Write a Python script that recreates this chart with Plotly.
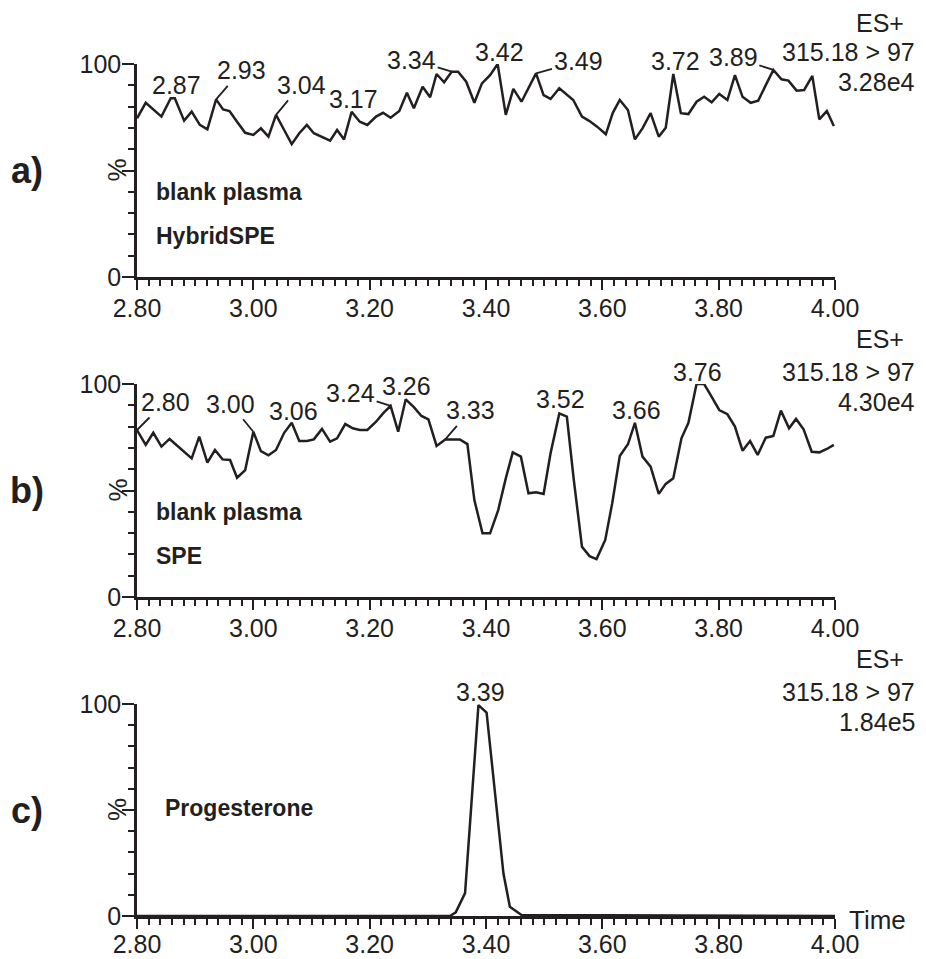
import plotly.graph_objects as go

# ---------------- data ----------------
time_a = [2.800, 2.815, 2.842, 2.858, 2.865, 2.881, 2.894, 2.908, 2.921, 2.936, 2.948, 2.959, 2.972, 2.986,
          3.000, 3.013, 3.026, 3.039, 3.053, 3.066, 3.079, 3.092, 3.104, 3.118, 3.132, 3.144, 3.156, 3.169,
          3.183, 3.196, 3.211, 3.223, 3.236, 3.251, 3.264, 3.276, 3.291, 3.304, 3.315, 3.328, 3.341, 3.352,
          3.366, 3.380, 3.393, 3.407, 3.420, 3.434, 3.447, 3.461, 3.473, 3.486, 3.499, 3.511, 3.526, 3.539,
          3.550, 3.565, 3.578, 3.591, 3.606, 3.618, 3.630, 3.644, 3.656, 3.669, 3.683, 3.697, 3.709, 3.722,
          3.735, 3.748, 3.762, 3.775, 3.788, 3.801, 3.815, 3.828, 3.841, 3.855, 3.868, 3.881, 3.894, 3.908,
          3.920, 3.934, 3.947, 3.961, 3.973, 3.986, 3.998]
intensity_a = [74.5, 81.8, 75.3, 83.9, 83.9, 73.4, 77.6, 71.4, 69.3, 83.4, 78.7, 77.9, 72.9, 67.7,
               66.7, 69.8, 65.9, 76.1, 69.0, 62.4, 67.5, 71.4, 67.5, 65.6, 64.0, 69.0, 64.6, 77.6,
               72.9, 71.4, 75.3, 77.1, 74.8, 77.9, 86.5, 79.2, 89.3, 84.4, 95.3, 91.4, 96.4, 96.4,
               91.7, 81.8, 90.9, 94.8, 100.0, 76.1, 88.3, 82.3, 88.5, 95.6, 85.4, 83.6, 88.6, 85.8,
               83.1, 75.3, 73.2, 70.6, 67.0, 77.1, 83.1, 78.4, 64.6, 69.8, 76.9, 65.9, 70.1, 95.3,
               76.9, 76.5, 82.3, 84.6, 82.0, 85.9, 83.1, 94.8, 84.6, 81.8, 82.8, 90.1, 97.2, 92.8,
               92.2, 87.5, 87.8, 94.4, 74.0, 77.9, 70.9]

time_b = [2.800, 2.815, 2.828, 2.842, 2.856, 2.868, 2.881, 2.894, 2.907, 2.921, 2.934, 2.947, 2.960, 2.972,
          2.986, 3.000, 3.013, 3.026, 3.039, 3.053, 3.066, 3.079, 3.092, 3.104, 3.118, 3.132, 3.144, 3.158,
          3.171, 3.183, 3.196, 3.211, 3.223, 3.236, 3.249, 3.262, 3.276, 3.289, 3.301, 3.315, 3.330, 3.343,
          3.355, 3.368, 3.380, 3.394, 3.407, 3.421, 3.434, 3.446, 3.460, 3.473, 3.486, 3.499, 3.511, 3.526,
          3.539, 3.551, 3.565, 3.578, 3.590, 3.605, 3.617, 3.630, 3.644, 3.656, 3.669, 3.683, 3.697, 3.709,
          3.722, 3.736, 3.748, 3.762, 3.775, 3.788, 3.801, 3.815, 3.828, 3.841, 3.854, 3.867, 3.881, 3.894,
          3.907, 3.921, 3.933, 3.946, 3.960, 3.973, 3.986, 3.998]
intensity_b = [78.4, 71.4, 77.1, 70.6, 74.2, 71.4, 68.2, 65.1, 75.3, 63.1, 69.0, 64.6, 64.3, 56.0,
               59.6, 77.6, 68.5, 66.5, 69.0, 77.1, 81.8, 73.2, 73.2, 74.0, 78.9, 72.9, 74.5, 81.2,
               79.2, 78.4, 78.4, 82.3, 86.2, 89.7, 77.6, 92.8, 89.1, 85.0, 83.4, 70.9, 74.0, 74.0,
               74.0, 71.8, 45.5, 29.9, 29.9, 40.8, 55.7, 67.9, 65.9, 48.7, 49.2, 48.4, 67.5, 86.2,
               84.7, 54.9, 23.6, 19.2, 17.8, 26.8, 44.0, 66.2, 71.7, 81.8, 65.9, 61.2, 48.4, 53.1,
               55.7, 74.5, 81.8, 100.0, 100.0, 94.0, 87.8, 85.8, 80.0, 68.7, 73.2, 66.7, 74.8, 75.6,
               87.5, 79.2, 83.6, 78.7, 68.2, 67.9, 69.5, 71.4]

time_c = [2.800, 3.338, 3.348, 3.364, 3.387, 3.401, 3.430, 3.441, 3.461, 4.000]
intensity_c = [0.0, 0.0, 1.7, 10.8, 99.5, 96.0, 20.0, 4.4, 0.5, 0.0]

# peak labels (text, anchor time, anchor intensity)
peak_text_a = ["2.87", "2.93", "3.04", "3.17", "3.34", "3.42", "3.49", "3.72", "3.89"]
peak_x_a = [2.865, 2.936, 3.039, 3.169, 3.341, 3.420, 3.486, 3.722, 3.894]
peak_y_a = [83.9, 83.4, 76.1, 77.6, 96.4, 100.0, 95.6, 95.3, 97.2]

peak_text_b = ["2.80", "3.00", "3.06", "3.24", "3.26", "3.33", "3.52", "3.66", "3.76"]
peak_x_b = [2.800, 3.000, 3.066, 3.236, 3.262, 3.330, 3.526, 3.656, 3.762]
peak_y_b = [78.4, 77.6, 81.8, 89.7, 92.8, 74.0, 86.2, 81.8, 100.0]

peak_text_c = ["3.39"]
peak_x_c = [3.387]
peak_y_c = [99.5]

x_tick_vals = [2.8, 3.0, 3.2, 3.4, 3.6, 3.8, 4.0]
x_tick_text = ["2.80", "3.00", "3.20", "3.40", "3.60", "3.80", "4.00"]

panel_letters = ["a)", "b)", "c)"]
sample_lines = [["blank plasma", "HybridSPE"], ["blank plasma", "SPE"], ["Progesterone"]]
channel = ["315.18 > 97", "315.18 > 97", "315.18 > 97"]
scale_text = ["3.28e4", "4.30e4", "1.84e5"]

# ---------------- layout helpers (reference-pixel positions) ----------------
OFF = 8                      # page body margin of the browser
W, H = 926 - OFF, 959 - OFF  # figure size that fits the window
L, R = 137, 835              # plot left / right in window pixels
INK = "#231f20"
FONT = "Liberation Sans, Arial, sans-serif"


def px_x(px):
    return (px - L) / (R - L)


def px_y(py):
    return 1 - (py - OFF) / H


panel_px = [(64, 277), (384, 597), (704, 916)]  # (y=100 px, y=0 px) in window pixels
label_standoff = [-3, -3, -6]
es_shift = [41, 45, 45]

# label offsets (dx, dy, leader)
offs_a = [(2, -13, False), (25, -29, True), (25, -30, True), (2, -13, False), (-40, -12, True),
          (2, -12, False), (42, -12, True), (2, -13, False), (-40, -13, True)]
offs_b = [(28, -28, True), (-23, -28, True), (2, -12, False), (-40, -13, True), (1, -13, False),
          (25, -29, True), (1, -14, False), (2, -13, False), (1, -12, False)]
offs_c = [(2, -13, False)]

fig = go.Figure()
series = [(time_a, intensity_a), (time_b, intensity_b), (time_c, intensity_c)]
labels = [(peak_text_a, peak_x_a, peak_y_a, offs_a),
          (peak_text_b, peak_x_b, peak_y_b, offs_b),
          (peak_text_c, peak_x_c, peak_y_c, offs_c)]

annotations = []
layout_axes = {}
for i, (tx, ty) in enumerate(series):
    n = "" if i == 0 else str(i + 1)
    xa, ya = "x" + n, "y" + n
    fig.add_trace(go.Scatter(x=tx, y=ty, mode="lines", xaxis=xa, yaxis=ya,
                             line=dict(color=INK, width=2.5), showlegend=False,
                             hoverinfo="skip"))
    top, bot = panel_px[i]
    layout_axes["xaxis" + n] = dict(
        domain=[0, 1], anchor=ya, range=[2.8, 4.0], showgrid=False, zeroline=False,
        showline=True, linecolor=INK, linewidth=2.5,
        tickmode="array", tickvals=x_tick_vals, ticktext=x_tick_text,
        ticks="outside", ticklen=10, tickwidth=2, tickcolor=INK,
        ticklabelstandoff=label_standoff[i],
        tickfont=dict(family=FONT, size=25, color=INK),
        minor=dict(tickmode="linear", tick0=2.8, dtick=0.02, ticks="outside",
                   ticklen=6, tickwidth=2, tickcolor=INK),
        automargin=False, fixedrange=True,
    )
    layout_axes["yaxis" + n] = dict(
        domain=[px_y(bot), px_y(top)], anchor=xa, range=[0, 100], showgrid=False,
        zeroline=False, showline=True, linecolor=INK, linewidth=2.5,
        tickmode="array", tickvals=[0, 50, 100], ticktext=["0", "", "100"],
        ticks="outside", ticklen=12, tickwidth=2, tickcolor=INK,
        ticklabelstandoff=-4,
        tickfont=dict(family=FONT, size=25, color=INK),
        minor=dict(tickmode="linear", tick0=0, dtick=10, ticks="outside",
                   ticklen=6, tickwidth=2, tickcolor=INK),
        automargin=False, fixedrange=True,
    )

    # peak labels
    texts, lx, ly, offs = labels[i]
    for t, x, y, (dx, dy, leader) in zip(texts, lx, ly, offs):
        if leader:
            annotations.append(dict(x=x, y=y, xref=xa, yref=ya, text=t, showarrow=True,
                                    arrowhead=0, arrowwidth=1.8, arrowcolor=INK,
                                    ax=dx, ay=dy, standoff=0,
                                    font=dict(family=FONT, size=25, color=INK)))
        else:
            annotations.append(dict(x=x, y=y, xref=xa, yref=ya, text=t, showarrow=False,
                                    xanchor="center", yanchor="middle", xshift=dx, yshift=-dy,
                                    font=dict(family=FONT, size=25, color=INK)))

    # panel letter
    annotations.append(dict(x=px_x(27), y=50, xref="paper", yref=ya, text=panel_letters[i],
                            showarrow=False, xanchor="center", yanchor="middle",
                            font=dict(family=FONT, size=36, color=INK, weight="bold")))
    # % label
    annotations.append(dict(x=px_x(117), y=50, xref="paper", yref=ya, text="%",
                            showarrow=False, xanchor="center", yanchor="middle", textangle=-90,
                            font=dict(family=FONT, size=26, color=INK)))
    # sample text
    sample_y = [40, 19.2] if len(sample_lines[i]) == 2 else [51]
    sample_x = 154 if len(sample_lines[i]) == 2 else 163
    for s, sy in zip(sample_lines[i], sample_y):
        annotations.append(dict(x=px_x(sample_x), y=sy, xref="paper", yref=ya, text=s,
                                showarrow=False, xanchor="left", yanchor="middle",
                                font=dict(family=FONT, size=23, color=INK, weight="bold")))
    # right-hand header
    for t, xr, ys in [("ES+", 905, es_shift[i]), (channel[i], 916, 12), (scale_text[i], 916, -18)]:
        annotations.append(dict(x=px_x(xr), y=100, xref="paper", yref=ya, text=t,
                                showarrow=False, xanchor="right", yanchor="middle", yshift=ys,
                                borderpad=0,
                                font=dict(family=FONT, size=25, color=INK)))

annotations.append(dict(x=px_x(847), y=0, xref="paper", yref="y3", text="Time", showarrow=False,
                        xanchor="left", yanchor="middle", yshift=-4,
                        font=dict(family=FONT, size=26, color=INK)))

fig.update_layout(
    template="none",
    width=W, height=H,
    margin=dict(l=L - OFF, r=926 - R, t=0, b=0, pad=0),
    paper_bgcolor="white", plot_bgcolor="white",
    showlegend=False,
    annotations=annotations,
    **layout_axes,
)

fig.write_html("out.html")
